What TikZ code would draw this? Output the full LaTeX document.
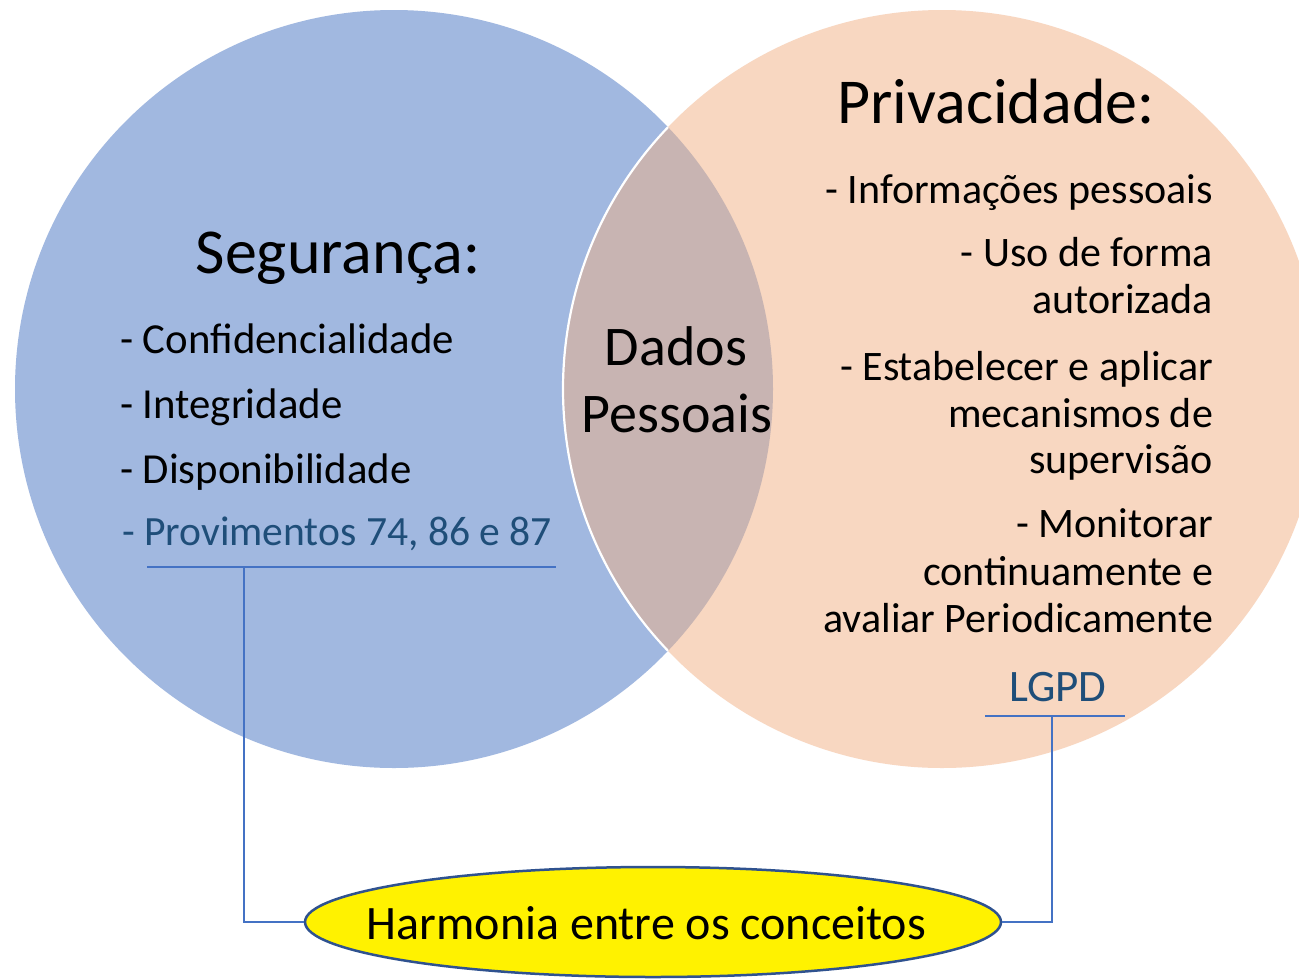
\documentclass[tikz,border=0pt]{standalone}
\usepackage{fontspec}
\setmainfont{Carlito}
\usetikzlibrary{shapes.geometric}
\definecolor{segfill}{RGB}{161,184,224}
\definecolor{prifill}{RGB}{248,215,193}
\definecolor{lensfill}{RGB}{200,180,178}
\definecolor{darkblue}{RGB}{31,78,121}
\definecolor{linkblue}{RGB}{68,114,196}
\definecolor{ellborder}{RGB}{47,82,143}
\tikzset{
  txt/.style={inner sep=0pt, outer sep=0pt, text=black},
  head/.style={txt, font=\fontsize{64}{70}\selectfont, anchor=base},
  itemL/.style={txt, font=\fontsize{42.8}{50}\selectfont, anchor=base west},
  itemR/.style={txt, font=\fontsize{42}{50}\selectfont, anchor=base east},
  link/.style={draw=linkblue, line width=1.3pt},
}
\begin{document}
\begin{tikzpicture}[x=1pt,y=1pt]
\useasboundingbox (0,0) rectangle (1299,-978);
\fill[white] (0,0) rectangle (1299,-978);
\begin{scope}
\clip (0,0) rectangle (1299,-978);
% circles
\fill[segfill] (394,-389) circle[radius=379];
\fill[prifill] (942,-389) circle[radius=379];
\begin{scope}
  \clip (394,-389) circle[radius=379];
  \fill[lensfill] (942,-389) circle[radius=379];
  \draw[white, line width=2.2pt] (942,-389) circle[radius=379];
\end{scope}
\end{scope}

% left texts
\node[head] (seg) at (338,-273) {Segurança:};
\node[itemL] (conf) at (120,-353) {- Confidencialidade};
\node[itemL] (integ) at (120,-418) {- Integridade};
\node[itemL] (disp) at (120,-483) {- Disponibilidade};
\node[itemL, text=darkblue, font=\fontsize{41.6}{50}\selectfont] (prov) at (122,-545) {- Provimentos 74, 86 e 87};

% right texts
\node[head] (priv) at (996,-123) {Privacidade:};
\node[itemR] (r1) at (1213,-203) {- Informações pessoais};
\node[itemR] (r2a) at (1213,-266) {- Uso de forma};
\node[itemR] (r2b) at (1213,-313) {autorizada};
\node[itemR] (r3a) at (1213,-380) {- Estabelecer e aplicar};
\node[itemR] (r3b) at (1213,-427) {mecanismos de};
\node[itemR] (r3c) at (1213,-473) {supervisão};
\node[itemR] (r4a) at (1213,-537) {- Monitorar};
\node[itemR] (r4b) at (1213,-585) {continuamente e};
\node[itemR] (r4c) at (1213,-632) {avaliar Periodicamente};
\node[txt, text=darkblue, font=\fontsize{45}{50}\selectfont, anchor=base] (lgpd) at (1058,-701) {LGPD};

% centre
\node[txt, font=\fontsize{56}{60}\selectfont, anchor=base] (dados) at (676,-365) {Dados};
\node[txt, font=\fontsize{56}{60}\selectfont, anchor=base] (pess) at (677,-432) {Pessoais};

% ellipse
\node[ellipse, draw=ellborder, line width=2.5pt, fill=yellow, minimum width=696pt, minimum height=110pt, inner sep=0pt] (harm) at (653,-922) {};
\node[txt, font=\fontsize{48}{52}\selectfont, anchor=base] (harmtxt) at (646.5,-939) {Harmonia entre os conceitos};

% connectors
\coordinate (pl) at (147,-567);
\coordinate (pr) at (556,-567);
\coordinate (pt) at (244,-567);
\coordinate (ll) at (985,-716);
\coordinate (lr) at (1125,-716);
\coordinate (lt) at (1052,-716);
\draw[link] (pl) -- (pr);
\draw[link] (pt) |- (harm.west);
\draw[link] (ll) -- (lr);
\draw[link] (lt) |- (harm.east);
\end{tikzpicture}
\end{document}
